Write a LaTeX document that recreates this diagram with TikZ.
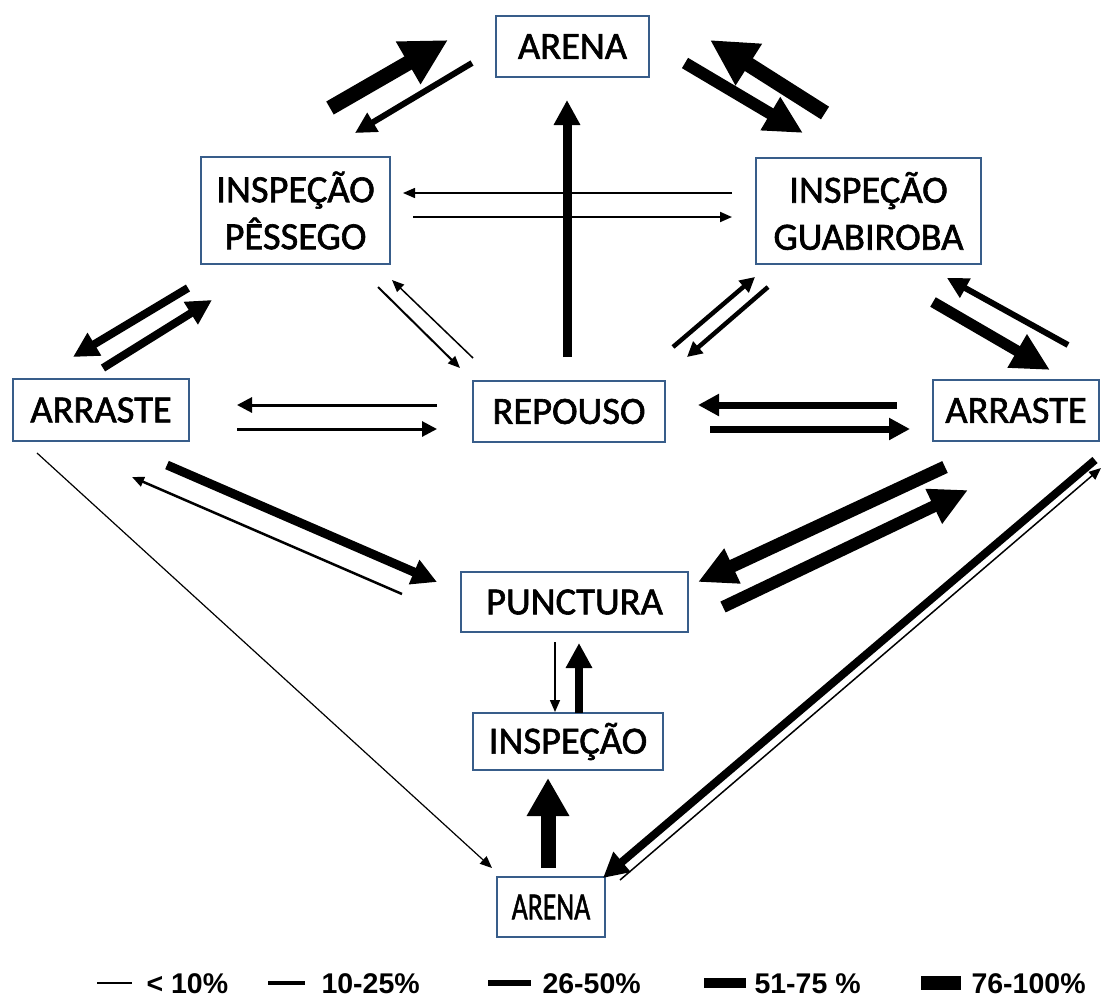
\documentclass[tikz,border=0pt]{standalone}
\usepackage{fontspec}
\usepackage{graphicx}
\setmainfont{Carlito}
\newfontfamily\nodefont{Carlito}[FakeBold=1.6]
\newfontfamily\legendfont{Liberation Sans}
\usetikzlibrary{calc,arrows.meta}
\definecolor{boxblue}{RGB}{56,93,138}
\tikzset{>=stealth,
  state/.style={draw=boxblue, line width=1.5pt, inner sep=0pt, align=center,
    font=\nodefont\fontsize{38.5}{47}\selectfont, minimum height=61pt},
  w1/.style={line width=1.5pt, -{Triangle[length=12pt,width=10pt]}},
  w2/.style={line width=4pt, -{Triangle[length=15pt,width=15pt]}},
  w3/.style={line width=7pt, -{Triangle[length=21pt,width=21pt]}},
  w4/.style={line width=9pt, -{Triangle[length=25pt,width=25pt]}},
  w5/.style={line width=12pt, -{Triangle[length=38pt,width=36pt]}},
  w6/.style={line width=15pt, -{Triangle[length=46pt,width=46pt]}},
  legend/.style={anchor=base west, font=\legendfont\bfseries\fontsize{28.5}{30}\selectfont}
}

\begin{document}
\begin{tikzpicture}[x=1pt,y=-1pt]
      \useasboundingbox (0,0) rectangle (1101,997);
      % states
      \node[state, minimum width=153pt] (arena) at (572.5,46.5) {ARENA};
      \node[state, minimum width=189pt, minimum height=107pt] (pes) at (295.5,210.5)
           {INSPEÇÃO\\PÊSSEGO};
      \node[state, minimum width=225pt, minimum height=106pt] (gua) at (868.5,211)
           {INSPEÇÃO\\GUABIROBA};
      \node[state, minimum width=176pt, minimum height=62pt] (arrL) at (101,410) {ARRASTE};
      \node[state, minimum width=192pt] (rep) at (569,411.5) {REPOUSO};
      \node[state, minimum width=166pt] (arrR) at (1016,410.5) {ARRASTE};
      \node[state, minimum width=227pt, minimum height=60pt] (punc) at (574.5,602) {PUNCTURA};
      \node[state, minimum width=190pt, minimum height=57pt] (insp) at (568,741.5) {INSPEÇÃO};
      \node[state, minimum width=108pt, minimum height=60pt] (arenaB) at (551,907)
           {\scalebox{0.72}[1]{ARENA}};

      % transitions
      \draw[w6] ($(pes)+(34.5,-102.5)$) -- ($(arena)+(-124.5,-6.5)$);
      \draw[w3, line width=6pt] ($(arena)+(-100.5,16.5)$) -- ($(pes)+(59.5,-77.5)$);
      \draw[w6] ($(gua)+(-43.5,-98)$) -- ($(arena)+(137.5,-6.5)$);
      \draw[w5] ($(arena)+(112.5,16.5)$) -- ($(gua)+(-65.5,-78)$);
      \draw[w1] ($(gua)+(-136.5,-18)$) -- ($(pes)+(107.5,-17.5)$);
      \draw[w1, line width=2pt] ($(pes)+(117.5,6.5)$) -- ($(gua)+(-136.5,6)$);
      \draw[w4] ($(rep)+(-2,-54.5)$) -- ($(arena)+(-5.5,53.5)$);

      \draw[w4, line width=8pt] ($(pes)+(-107.5,77.5)$) -- ($(arrL)+(-28,-53)$);
      \draw[w4, line width=8pt] ($(arrL)+(2,-42)$) -- ($(pes)+(-83.5,89.5)$);
      \draw[w1, line width=2pt] ($(pes)+(82.5,76.5)$) -- ($(rep)+(-109,-43.5)$);
      \draw[w1] ($(rep)+(-96,-53.5)$) -- ($(pes)+(96.5,69.5)$);
      \draw[w2, line width=4.5pt] ($(rep)+(104,-64.5)$) -- ($(gua)+(-113.5,66)$);
      \draw[w2, line width=4.5pt] ($(gua)+(-100.5,76)$) -- ($(rep)+(118,-54.5)$);
      \draw[w3, line width=6pt] ($(arrR)+(52,-65.5)$) -- ($(gua)+(78.5,67)$);
      \draw[w5, line width=11pt] ($(gua)+(64.5,91)$) -- ($(arrR)+(34,-40.5)$);

      \draw[w2, line width=3pt] ($(rep)+(-132,-6.5)$) -- ($(arrL)+(136,-5)$);
      \draw[w2, line width=3pt] ($(arrL)+(136,19)$) -- ($(rep)+(-132,17.5)$);
      \draw[w3] ($(arrR)+(-119,-5.5)$) -- ($(rep)+(129,-6.5)$);
      \draw[w3] ($(rep)+(141,17.5)$) -- ($(arrR)+(-106,18.5)$);

      \draw[w4] ($(arrL)+(66,55)$) -- ($(punc)+(-137.5,-20)$);
      \draw[w1, line width=2.5pt] ($(punc)+(-172.5,-8)$) -- ($(arrL)+(31,67)$);
      \draw[w1, line width=1.2pt] ($(arrL)+(-64,43)$) -- ($(arenaB)+(-59,-39)$);
      \draw[w5, line width=13pt] ($(arrR)+(-71,56.5)$) -- ($(punc)+(123.5,-20)$);
      \draw[w5] ($(punc)+(148.5,5)$) -- ($(arrR)+(-48,79.5)$);
      \draw[w4, line width=8pt] ($(arrR)+(79,49.5)$) -- ($(arenaB)+(52,-29)$);
      \draw[w1] ($(arenaB)+(69,-27)$) -- ($(arrR)+(85,57.5)$);

      \draw[w6, -{Triangle[length=38pt,width=40pt]}] ($(arenaB)+(-3,-39)$) -- ($(insp)+(-20,36.5)$);
      \draw[w4, line width=8pt] ($(insp)+(11,-28.5)$) -- ($(punc)+(4.5,41)$);
      \draw[w1] ($(punc)+(-19.5,40)$) -- ($(insp)+(-13,-29.5)$);

      % legend
      \draw[line width=1.5pt] (97,983) -- (132,983);
      \node[legend] (l1) at (143,993) {< 10\%};
      \draw[line width=3.5pt] (268,983) -- (305,983);
      \node[legend] (l2) at (318,993) {10-25\%};
      \draw[line width=6.5pt] (488,983) -- (531,983);
      \node[legend] (l3) at (539,993) {26-50\%};
      \fill (704,978) rectangle (746,988);
      \node[legend] (l4) at (751,993) {51-75 \%};
      \fill (921,976) rectangle (961,990);
      \node[legend] (l5) at (968,993) {76-100\%};
\end{tikzpicture}
\end{document}
